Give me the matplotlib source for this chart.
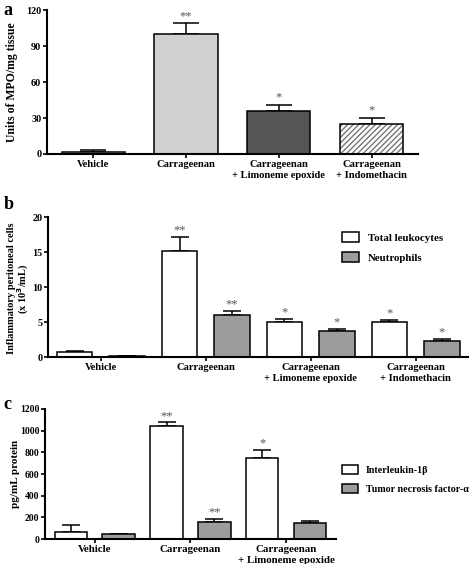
import numpy as np
import matplotlib
matplotlib.use("Agg")
import matplotlib.pyplot as plt
from matplotlib.patches import Patch

plt.rcParams['font.family'] = ['Liberation Serif', 'DejaVu Serif']
plt.rcParams['font.weight'] = 'bold'

# --- Data ---

# panel a: MPO activity
mpo_labels = ['Vehicle', 'Carrageenan', 'Carrageenan\n+ Limoneme epoxide', 'Carrageenan\n+ Indomethacin']
mpo_values = [2, 100, 36, 25]
mpo_errors = [1, 9, 5, 5]
mpo_stars = ['', '**', '*', '*']

# panel b: peritoneal cells
cell_labels = ['Vehicle', 'Carrageenan', 'Carrageenan\n+ Limoneme epoxide', 'Carrageenan\n+ Indomethacin']
leuko_values = [0.7, 15.2, 5.0, 5.0]
leuko_errors = [0.1, 2.0, 0.4, 0.3]
leuko_stars = ['', '**', '*', '*']
neutro_values = [0.15, 6.0, 3.7, 2.3]
neutro_errors = [0.05, 0.6, 0.3, 0.3]
neutro_stars = ['', '**', '*', '*']

# panel c: cytokines
cyto_labels = ['Vehicle', 'Carrageenan', 'Carrageenan\n+ Limoneme epoxide']
il1_values = [70, 1045, 750]
il1_errors = [60, 30, 70]
il1_stars = ['', '**', '*']
tnf_values = [45, 155, 152]
tnf_errors = [5, 30, 15]
tnf_stars = ['', '**', '']

GRAY = '#9c9c9c'
STAR_COLOR = '#555555'


def style_axis(ax, ysize=7.3):
    ax.spines['top'].set_visible(False)
    ax.spines['right'].set_visible(False)
    for s in ('left', 'bottom'):
        ax.spines[s].set_linewidth(1.5)
    ax.tick_params(axis='both', direction='out', length=3, width=1.2, pad=1)
    ax.tick_params(axis='y', labelsize=ysize)
    for lab in ax.get_yticklabels():
        lab.set_fontweight('bold')


def add_bars(ax, x, values, errors, stars, width, color, star_gap, capsize, star_size=9):
    ax.bar(x, values, width, color=color, edgecolor='black', linewidth=1.1, zorder=2)
    ax.errorbar(x, values, yerr=[np.zeros(len(values)), errors], fmt='none',
                ecolor='black', elinewidth=1.1, capsize=capsize, capthick=1.1, zorder=1)
    for xi, v, e, s in zip(x, values, errors, stars):
        if s:
            ax.text(xi, v + e + star_gap, s, ha='center', va='bottom',
                    fontsize=star_size, color=STAR_COLOR, fontweight='normal')


fig = plt.figure(figsize=(4.69, 5.64), dpi=100)

# ---------- panel a ----------
ax_a = fig.add_axes([0.100, 0.727, 0.791, 0.255])
xa = np.arange(len(mpo_values))
colors_a = ['#e4e4e4', '#d0d0d0', '#555555', 'white']
bw = 0.68
ax_a.bar(xa[:3], mpo_values[:3], bw, color=colors_a[:3], edgecolor='black', linewidth=1.1, zorder=2)
# hatched bar: gray hatch then black outline
ax_a.bar(xa[3], mpo_values[3], bw, color='white', edgecolor='#777777', hatch='//////', linewidth=0, zorder=2)
ax_a.bar(xa[3], mpo_values[3], bw, fill=False, edgecolor='black', linewidth=1.1, zorder=3)
ax_a.errorbar(xa, mpo_values, yerr=[np.zeros(4), mpo_errors], fmt='none', ecolor='black',
              elinewidth=1.1, capsize=9.5, capthick=1.1, zorder=1)
for xi, v, e, s in zip(xa, mpo_values, mpo_errors, mpo_stars):
    if s:
        ax_a.text(xi, v + e + 1, s, ha='center', va='bottom', fontsize=9,
                  color=STAR_COLOR, fontweight='normal')
ax_a.set_xlim(-0.5, 3.5)
ax_a.set_ylim(0, 120)
ax_a.set_yticks([0, 30, 60, 90, 120])
ax_a.set_xticks(xa)
ax_a.set_xticklabels(mpo_labels, fontsize=7.6, fontweight='bold', linespacing=1.3)
style_axis(ax_a)
ax_a.set_ylabel('Units of MPO/mg tissue', fontsize=8.5, fontweight='bold')
ax_a.yaxis.set_label_coords(-0.078, 0.5)
fig.text(0.008, 0.997, 'a', fontsize=13, fontweight='bold', va='top')

# ---------- panel b ----------
ax_b = fig.add_axes([0.102, 0.367, 0.896, 0.248])
xb = np.arange(len(leuko_values))
bwb = 0.34
add_bars(ax_b, xb - 0.25, leuko_values, leuko_errors, leuko_stars, bwb, 'white', 0.1, 6.5)
add_bars(ax_b, xb + 0.25, neutro_values, neutro_errors, neutro_stars, bwb, GRAY, 0.1, 6.5)
ax_b.set_xlim(-0.505, 3.5)
ax_b.set_ylim(0, 20)
ax_b.set_yticks([0, 5, 10, 15, 20])
ax_b.set_xticks(xb)
ax_b.set_xticklabels(cell_labels, fontsize=7.6, fontweight='bold', linespacing=1.3)
style_axis(ax_b)
ax_b.set_ylabel('Inflammatory peritoneal cells\n(x 10$^{\\mathbf{3}}$/mL)', fontsize=7.5,
                fontweight='bold', linespacing=1.0)
ax_b.yaxis.set_label_coords(-0.04, 0.49)
ax_b.legend(handles=[Patch(facecolor='white', edgecolor='black', linewidth=1.1, label='Total leukocytes'),
                     Patch(facecolor=GRAY, edgecolor='black', linewidth=1.1, label='Neutrophils')],
            loc='upper left', bbox_to_anchor=(0.676, 0.965), frameon=False, fontsize=7.8,
            handlelength=1.6, handleheight=1.1, labelspacing=0.85, handletextpad=0.8)
fig.text(0.008, 0.652, 'b', fontsize=13, fontweight='bold', va='top')

# ---------- panel c ----------
ax_c = fig.add_axes([0.096, 0.044, 0.620, 0.231])
xc = np.arange(len(il1_values))
add_bars(ax_c, xc - 0.25, il1_values, il1_errors, il1_stars, bwb, 'white', 5, 6.5)
add_bars(ax_c, xc + 0.25, tnf_values, tnf_errors, tnf_stars, bwb, GRAY, 5, 6.5)
ax_c.set_xlim(-0.52, 2.52)
ax_c.set_ylim(0, 1200)
ax_c.set_yticks(np.arange(0, 1201, 200))
ax_c.set_xticks(xc)
ax_c.set_xticklabels(cyto_labels, fontsize=7.8, fontweight='bold', linespacing=1.3)
style_axis(ax_c, ysize=6.9)
ax_c.set_ylabel('pg/mL protein', fontsize=8, fontweight='bold')
ax_c.yaxis.set_label_coords(-0.085, 0.5)
ax_c.legend(handles=[Patch(facecolor='white', edgecolor='black', linewidth=1.1, label='Interleukin-1\u03b2'),
                     Patch(facecolor=GRAY, edgecolor='black', linewidth=1.1, label='Tumor necrosis factor-\u03b1')],
            loc='upper left', bbox_to_anchor=(0.99, 0.64), frameon=False, fontsize=7.2,
            handlelength=1.6, handleheight=1.1, labelspacing=0.85, handletextpad=0.8)
fig.text(0.008, 0.297, 'c', fontsize=13, fontweight='bold', va='top')

fig.savefig('out.png', dpi=100)
